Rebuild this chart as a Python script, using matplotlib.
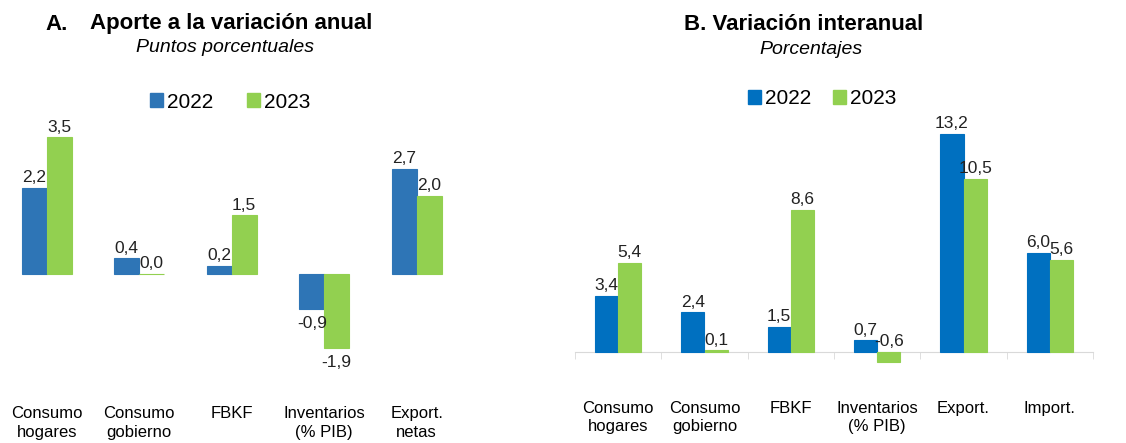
import matplotlib.pyplot as plt
import numpy as np
from matplotlib.patches import Patch

plt.rcParams['font.family'] = ['Liberation Sans', 'DejaVu Sans']

# datos
cats_a = ['Consumo\nhogares', 'Consumo\ngobierno', 'FBKF', 'Inventarios\n(% PIB)', 'Export.\nnetas']
a_2022 = [2.2, 0.4, 0.2, -0.9, 2.7]
a_2023 = [3.5, 0.0, 1.5, -1.9, 2.0]

cats_b = ['Consumo\nhogares', 'Consumo\ngobierno', 'FBKF', 'Inventarios\n(% PIB)', 'Export.', 'Import.']
b_2022 = [3.4, 2.4, 1.5, 0.7, 13.2, 6.0]
b_2023 = [5.4, 0.1, 8.6, -0.6, 10.5, 5.6]

years = ['2022', '2023']

W, H = 1126, 443
fig = plt.figure(figsize=(W / 100, H / 100), dpi=100)


def px_axes(left, right, top, bottom):
    return fig.add_axes([left / W, 1 - bottom / H, (right - left) / W, (bottom - top) / H])


def fmt(v):
    return f'{v:.1f}'.replace('.', ',')


def draw_panel(ax, cats, v1, v2, c1, c2, neg_below):
    x = np.arange(len(cats))
    w = 0.27
    b1 = ax.bar(x - w / 2, v1, w, color=c1, edgecolor=c1, linewidth=0.8)
    b2 = ax.bar(x + w / 2, v2, w, color=c2, edgecolor=c2, linewidth=0.8)
    for bars, vals in ((b1, v1), (b2, v2)):
        for r, v in zip(bars, vals):
            cx = r.get_x() + r.get_width() / 2
            if v < 0 and neg_below:
                ax.annotate(fmt(v), (cx, v), xytext=(0, -5), textcoords='offset points',
                            ha='center', va='top', fontsize=12.5, color='#222222')
            else:
                ax.annotate(fmt(v), (cx, max(v, 0)), xytext=(0, 2), textcoords='offset points',
                            ha='center', va='bottom', fontsize=12.5, color='#222222')
    ax.set_xlim(-0.5, len(cats) - 0.5)
    ax.set_xticks(x)
    ax.set_xticklabels(cats, fontsize=12, linespacing=1.3)
    ax.set_yticks([])
    for s in ax.spines.values():
        s.set_visible(False)


# Panel A
ax1 = px_axes(0.5, 463, 118, 371.5)
draw_panel(ax1, cats_a, a_2022, a_2023, '#2E75B6', '#92D050', True)
ax1.set_ylim(-2.5, 4.0)
ax1.tick_params(axis='x', length=0, pad=25)

# Panel B
ax2 = px_axes(575, 1093, 112.75, 385)
ax2.spines['bottom'].set_position(('data', 0))
draw_panel(ax2, cats_b, b_2022, b_2023, '#0070C0', '#92D050', False)
ax2.set_ylim(-2.0, 14.5)
ax2.spines['bottom'].set_visible(True)
ax2.spines['bottom'].set_color('#D9D9D9')
ax2.spines['bottom'].set_zorder(0)
ax2.set_xticks(np.arange(-0.5, len(cats_b)), minor=True)
ax2.tick_params(axis='x', which='major', length=0, pad=35)
ax2.tick_params(axis='x', which='minor', length=5, color='#D9D9D9', direction='out')

# titulos
fig.text(45 / W, 1 - 24 / H, 'A.', fontsize=16, fontweight='bold', va='center')
fig.text(90 / W, 1 - 24 / H, 'Aporte a la variación anual', fontsize=16, fontweight='bold', va='center')
fig.text(225 / W, 1 - 48 / H, 'Puntos porcentuales', fontsize=14, style='italic', ha='center', va='center')
fig.text(804 / W, 1 - 24 / H, 'B. Variación interanual', fontsize=16, fontweight='bold', ha='center', va='center')
fig.text(811 / W, 1 - 49 / H, 'Porcentajes', fontsize=14, style='italic', ha='center', va='center')

# leyendas
for cols, cx, cy, cs in ((('#2E75B6', '#92D050'), 230, 102, 1.6), (('#0070C0', '#92D050'), 822, 99, 1.05)):
    handles = [Patch(color=c, label=y) for c, y in zip(cols, years)]
    fig.legend(handles=handles, loc='center', bbox_to_anchor=(cx / W, 1 - cy / H), ncol=2,
               frameon=False, fontsize=15, handlelength=0.62, handleheight=0.62,
               handletextpad=0.2, columnspacing=cs, borderpad=0)

fig.savefig('out.png', dpi=100)
